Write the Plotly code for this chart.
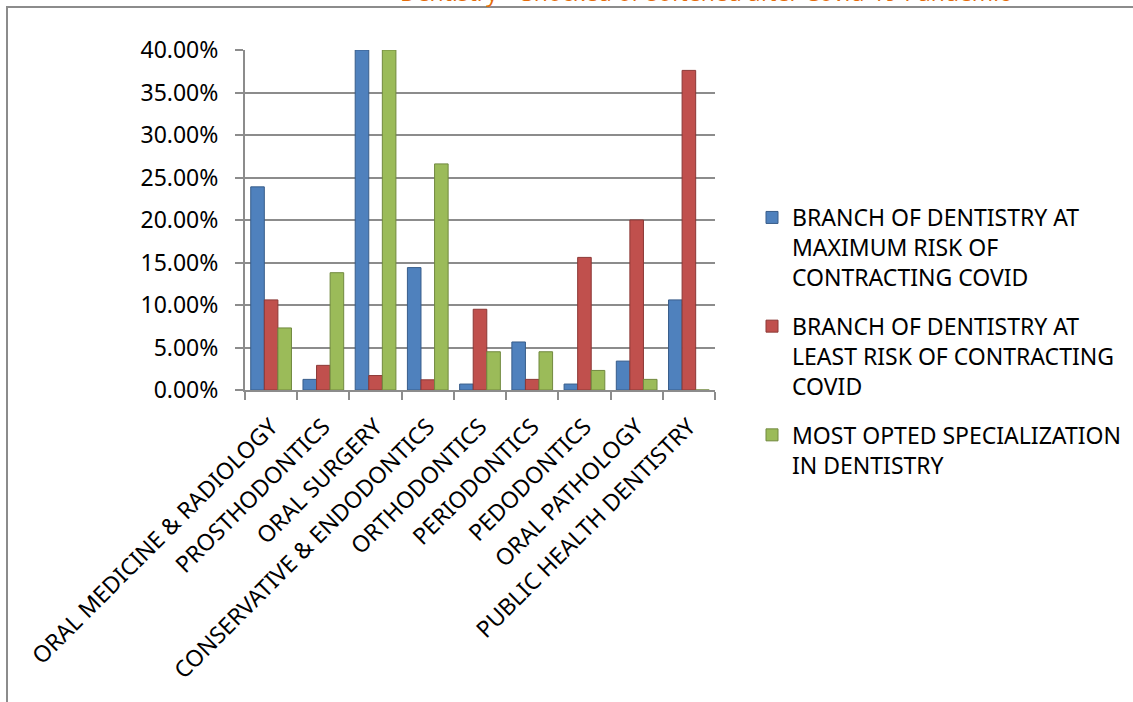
import plotly.graph_objects as go

categories = [
    "ORAL MEDICINE & RADIOLOGY",
    "PROSTHODONTICS",
    "ORAL SURGERY",
    "CONSERVATIVE & ENDODONTICS",
    "ORTHODONTICS",
    "PERIODONTICS",
    "PEDODONTICS",
    "ORAL PATHOLOGY",
    "PUBLIC HEALTH DENTISTRY",
]

max_risk = [0.239, 0.0125, 0.40, 0.144, 0.007, 0.0565, 0.007, 0.034, 0.106]
least_risk = [0.106, 0.029, 0.017, 0.012, 0.095, 0.0125, 0.156, 0.200, 0.376]
most_opted = [0.073, 0.138, 0.40, 0.266, 0.045, 0.045, 0.023, 0.0125, 0.0]

series_names = [
    "BRANCH OF DENTISTRY AT<br>MAXIMUM RISK OF<br>CONTRACTING COVID",
    "BRANCH OF DENTISTRY AT<br>LEAST RISK OF CONTRACTING<br>COVID",
    "MOST OPTED SPECIALIZATION<br>IN DENTISTRY",
]
series_values = [max_risk, least_risk, most_opted]
colors = ["#4F81BD", "#C0504D", "#9BBB59"]
edge_colors = ["#385D8A", "#8C3836", "#71893F"]

tick_vals = [0, 0.05, 0.10, 0.15, 0.20, 0.25, 0.30, 0.35, 0.40]
tick_text = ["0.00%", "5.00%", "10.00%", "15.00%", "20.00%", "25.00%", "30.00%", "35.00%", "40.00%"]

title_text = "Dentistry – Shocked or softened after Covid-19 Pandemic"

FONT = "Noto Sans"
W, H = 1133, 702
L, R, T, B = 245, 418, 50, 312
PW, PH = W - L - R, H - T - B

fig = go.Figure()
for i, (name, vals) in enumerate(zip(series_names, series_values)):
    fig.add_trace(go.Bar(
        x=categories, y=vals, name=name,
        legendgroup=f"g{i}",
        marker=dict(color=colors[i], line=dict(color=edge_colors[i], width=1)),
    ))

fig.update_layout(
    width=W, height=H,
    margin=dict(l=L, r=R, t=T, b=B, autoexpand=False),
    paper_bgcolor="white", plot_bgcolor="white",
    barmode="group", bargap=0.22, bargroupgap=0,
    font=dict(family=FONT, size=23, color="black"),
    showlegend=True,
    legend=dict(
        xref="container", yref="container",
        x=752 / W, y=1 - 196 / H, xanchor="left", yanchor="top",
        valign="top", traceorder="grouped", tracegroupgap=16,
        font=dict(family=FONT, size=23, color="black"),
        bgcolor="rgba(0,0,0,0)",
    ),
    xaxis=dict(
        type="category", range=[-0.5, 8.5],
        showline=True, linecolor="#8C8C8C", linewidth=2,
        ticks="outside", tickson="boundaries", ticklen=8, tickcolor="#8C8C8C", tickwidth=2,
        tickangle=-45, showgrid=False, ticklabelstandoff=12,
        tickfont=dict(family=FONT, size=23, color="black"),
    ),
    yaxis=dict(
        range=[0, 0.40], tickvals=tick_vals, ticktext=tick_text,
        showline=True, linecolor="#8C8C8C", linewidth=2,
        ticks="outside", ticklen=8, tickcolor="#8C8C8C", tickwidth=2,
        showgrid=True, gridcolor="#8C8C8C", gridwidth=2,
        zeroline=False, ticklabelstandoff=12,
        tickfont=dict(family=FONT, size=23, color="black"),
    ),
)

# chart frame border
fig.add_shape(type="rect", xref="paper", yref="paper",
              x0=(7 - L) / PW, x1=(1145 - L) / PW,
              y0=(H - B - 712) / PH, y1=(H - B - 7) / PH,
              line=dict(color="#8C8C8C", width=2), fillcolor="rgba(0,0,0,0)", layer="below")

# title, mostly cut off above the page
fig.add_annotation(text=title_text, xref="paper", yref="paper",
                   x=(705 - L) / PW, y=(H - B - 10) / PH, xanchor="center", yanchor="bottom",
                   showarrow=False, font=dict(family="Open Sans", size=23, color="#E46C0A"))

fig.write_html("out.html")
